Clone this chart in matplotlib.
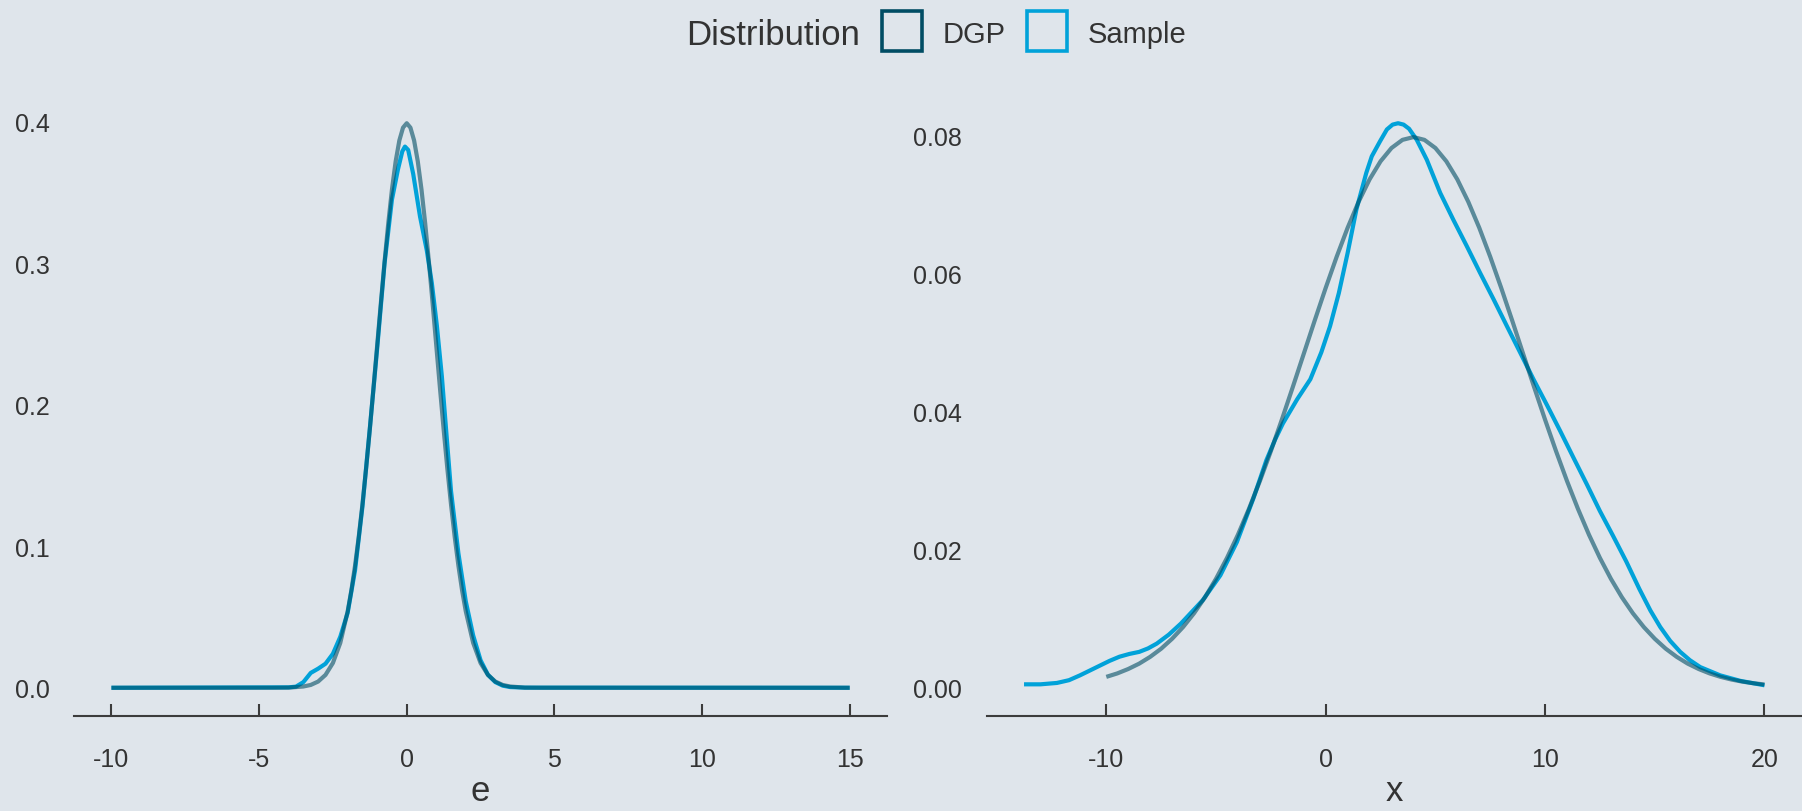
import matplotlib
matplotlib.use("Agg")
import matplotlib.pyplot as plt
from matplotlib.patches import Rectangle

# ---------------- data ----------------
e_dgp_x = [-10, -4.5, -4.0, -3.5, -3.25, -3.0, -2.75, -2.5, -2.25, -2.0, -1.875, -1.75, -1.625,
           -1.5, -1.375, -1.25, -1.125, -1.0, -0.875, -0.75, -0.625, -0.5, -0.375, -0.25,
           -0.125, 0.0, 0.125, 0.25, 0.375, 0.5, 0.625, 0.75, 0.875, 1.0, 1.125, 1.25, 1.375,
           1.5, 1.625, 1.75, 1.875, 2.0, 2.25, 2.5, 2.75, 3.0, 3.25, 3.5, 4.0, 4.5, 15]
e_dgp_y = [0.0, 0.00002, 0.0001, 0.0009, 0.0020, 0.0044, 0.0091, 0.0175, 0.0317, 0.0540, 0.0688,
           0.0863, 0.1066, 0.1295, 0.1550, 0.1826, 0.2119, 0.2420, 0.2721, 0.3011, 0.3282,
           0.3521, 0.3719, 0.3867, 0.3958, 0.3989, 0.3958, 0.3867, 0.3719, 0.3521, 0.3282,
           0.3011, 0.2721, 0.2420, 0.2119, 0.1826, 0.1550, 0.1295, 0.1066, 0.0863, 0.0688,
           0.0540, 0.0317, 0.0175, 0.0091, 0.0044, 0.0020, 0.0009, 0.0001, 0.00002, 0.0]

e_smp_x = [-10, -4.0, -3.75, -3.5, -3.25, -3.0, -2.75, -2.5, -2.25, -2.0, -1.75, -1.5, -1.25,
           -1.0, -0.75, -0.5, -0.3, -0.15, -0.06, 0.05, 0.22, 0.45, 0.68, 0.85, 1.02, 1.19,
           1.35, 1.5, 1.75, 2.0, 2.25, 2.5, 2.75, 3.0, 3.25, 3.5, 4.0, 15]
e_smp_y = [0.0, 0.0003, 0.0008, 0.0040, 0.0105, 0.0135, 0.0170, 0.0240, 0.0360, 0.0530, 0.0830,
           0.1280, 0.1830, 0.2400, 0.3000, 0.3450, 0.3660, 0.3790, 0.3824, 0.3800, 0.3630,
           0.3330, 0.3090, 0.2860, 0.2560, 0.2200, 0.1780, 0.1390, 0.0950, 0.0610, 0.0370,
           0.0195, 0.0092, 0.0040, 0.0015, 0.0005, 0.0001, 0.0]

x_dgp_x = [-10, -9.5, -9, -8.5, -8, -7.5, -7, -6.5, -6, -5.5, -5, -4.5, -4, -3.5, -3, -2.5,
           -2, -1.5, -1, -0.5, 0, 0.5, 1, 1.5, 2, 2.5, 3, 3.5, 4, 4.5, 5, 5.5, 6, 6.5, 7,
           7.5, 8, 8.5, 9, 9.5, 10, 10.5, 11, 11.5, 12, 12.5, 13, 13.5, 14, 14.5, 15, 15.5,
           16, 16.5, 17, 17.5, 18, 18.5, 19, 19.5, 20]
x_dgp_y = [0.00158, 0.00208, 0.00272, 0.00350, 0.00448, 0.00566, 0.00710, 0.00880, 0.01080,
           0.01312, 0.01579, 0.01881, 0.02218, 0.02591, 0.02995, 0.03428, 0.03884, 0.04357,
           0.04839, 0.05322, 0.05794, 0.06245, 0.06665, 0.07041, 0.07366, 0.07628, 0.07821,
           0.07939, 0.07979, 0.07939, 0.07821, 0.07628, 0.07366, 0.07041, 0.06665, 0.06245,
           0.05794, 0.05322, 0.04839, 0.04357, 0.03884, 0.03428, 0.02995, 0.02591, 0.02218,
           0.01881, 0.01579, 0.01312, 0.01080, 0.00880, 0.00710, 0.00566, 0.00448, 0.00350,
           0.00272, 0.00208, 0.00158, 0.00119, 0.000886, 0.000653, 0.000477]

x_smp_x = [-13.75, -13.0, -12.25, -11.7, -11.2, -10.75, -10.3, -9.85, -9.4, -8.95, -8.5, -8.1,
           -7.7, -7.15, -6.6, -6.1, -5.6, -4.8, -4.05, -3.3, -2.7, -2.3, -1.95, -1.3, -0.7,
           -0.2, 0.2, 0.6, 1.0, 1.4, 1.85, 2.1, 2.48, 2.79, 3.05, 3.3, 3.55, 3.8, 4.15, 4.61,
           5.22, 5.82, 6.43, 7.04, 7.65, 8.26, 8.86, 9.47, 10.08, 10.69, 11.3, 11.9, 12.5,
           13.1, 13.7, 14.3, 14.8, 15.25, 15.7, 16.16, 16.6, 17.07, 17.98, 18.9, 20.0]
x_smp_y = [0.0005, 0.0005, 0.0007, 0.0011, 0.0018, 0.0025, 0.0032, 0.0039, 0.0045, 0.0049,
           0.0052, 0.0057, 0.0064, 0.0077, 0.0093, 0.0110, 0.0127, 0.0163, 0.0211, 0.0274,
           0.0330, 0.0360, 0.0383, 0.0418, 0.0447, 0.0486, 0.0524, 0.0572, 0.0630, 0.0693,
           0.0746, 0.0770, 0.0792, 0.0809, 0.0816, 0.0818, 0.0816, 0.0810, 0.0794, 0.0765,
           0.0717, 0.0678, 0.0640, 0.0601, 0.0563, 0.0524, 0.0486, 0.0447, 0.0410, 0.0372,
           0.0333, 0.0295, 0.0256, 0.0220, 0.0183, 0.0143, 0.0112, 0.0088, 0.0068, 0.0052,
           0.0040, 0.0030, 0.0018, 0.0010, 0.00036]

e_xticks = [-10, -5, 0, 5, 10, 15]
e_yticks = [0.0, 0.1, 0.2, 0.3, 0.4]
e_ytick_labels = ["0.0", "0.1", "0.2", "0.3", "0.4"]
x_xticks = [-10, 0, 10, 20]
x_yticks = [0.00, 0.02, 0.04, 0.06, 0.08]
x_ytick_labels = ["0.00", "0.02", "0.04", "0.06", "0.08"]

legend_title = "Distribution"
legend_labels = ["DGP", "Sample"]

# ---------------- style ----------------
BG = "#dfe5eb"
C_DGP = "#014d64"
C_SMP = "#01a2d9"
TXT = "#333333"
AX = "#3c3c3c"
LW = 3.0

plt.rcParams["font.family"] = ["Liberation Sans", "DejaVu Sans"]

W, H = 1802, 812
fig = plt.figure(figsize=(W / 100, H / 100), dpi=100, facecolor=BG)

top_px, bot_px = 96, 717
axL = fig.add_axes([74.5 / W, (H - bot_px) / H, (886.6 - 74.5) / W, (bot_px - top_px) / H])
axR = fig.add_axes([987 / W, (H - bot_px) / H, (1801.5 - 987) / W, (bot_px - top_px) / H])


def expand(lo, hi, f=0.05):
    r = hi - lo
    return lo - f * r, hi + f * r


def style(ax, xs, ys, xticks, yticks, ylabels, xlabel):
    ax.set_facecolor(BG)
    for s in ["top", "right", "left"]:
        ax.spines[s].set_visible(False)
    ax.spines["bottom"].set_color(AX)
    ax.spines["bottom"].set_linewidth(1.5)
    ax.set_xticks(xticks)
    ax.set_xticklabels([str(t) for t in xticks])
    ax.set_yticks(yticks)
    ax.set_yticklabels(ylabels)
    ax.tick_params(axis="x", direction="in", length=8.6, width=1.5, color=AX,
                   labelsize=18, labelcolor=TXT, pad=22.5)
    ax.tick_params(axis="y", length=0, labelsize=18, labelcolor=TXT, pad=18)
    ax.set_xlabel(xlabel, fontsize=25, color=TXT)
    ax.xaxis.label.set_va("center")
    ax.xaxis.set_label_coords(0.5, -(792 - bot_px) / (bot_px - top_px))
    xmin = min(min(xs[0]), min(xs[1]))
    xmax = max(max(xs[0]), max(xs[1]))
    ax.set_xlim(*expand(xmin, xmax))
    ymax = max(max(ys[0]), max(ys[1]))
    ax.set_ylim(*expand(0, ymax))


kw = dict(lw=LW, solid_joinstyle="round", solid_capstyle="butt")

# left panel (e)
axL.plot(e_smp_x, e_smp_y, color=C_SMP, **kw)
axL.plot(e_dgp_x, e_dgp_y, color=C_DGP, alpha=0.6, **kw)
style(axL, (e_dgp_x, e_smp_x), (e_dgp_y, e_smp_y), e_xticks, e_yticks, e_ytick_labels, "e")

# right panel (x)
axR.plot(x_smp_x, x_smp_y, color=C_SMP, **kw)
axR.plot(x_dgp_x, x_dgp_y, color=C_DGP, alpha=0.6, **kw)
style(axR, (x_dgp_x, x_smp_x), (x_dgp_y, x_smp_y), x_xticks, x_yticks, x_ytick_labels, "x")

# legend (manual, one row at top)
ly = 1 - 32 / H
fig.text(686 / W, ly, legend_title, fontsize=25, color=TXT, ha="left", va="center_baseline")
box = 40
for x0, col, lab, tx in [(882, C_DGP, legend_labels[0], 943), (1027, C_SMP, legend_labels[1], 1088)]:
    fig.patches.append(Rectangle((x0 / W, 1 - 52 / H), box / W, box / H, transform=fig.transFigure,
                                 facecolor="none", edgecolor=col, linewidth=2.6))
    fig.text(tx / W, ly, lab, fontsize=21, color=TXT, ha="left", va="center_baseline")

fig.savefig("out.png", dpi=100, facecolor=BG)
